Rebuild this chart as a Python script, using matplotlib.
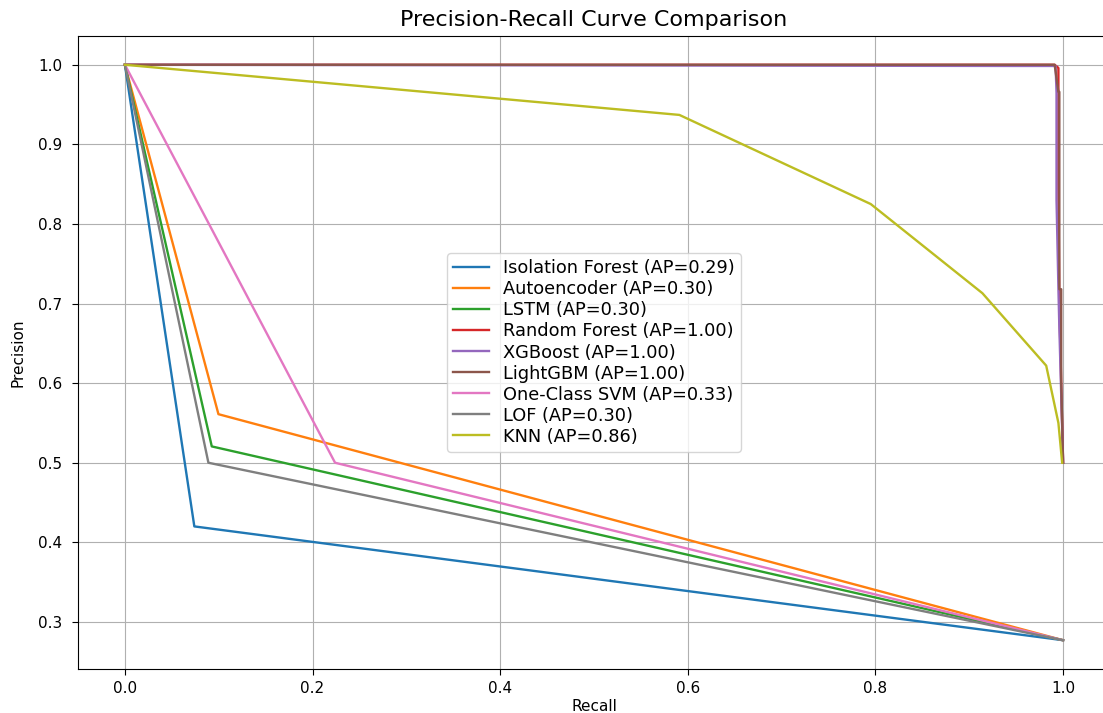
import matplotlib
matplotlib.use("Agg")
import matplotlib.pyplot as plt

# recall / precision points
iso_recall = [0.0, 0.074, 1.0]
iso_prec = [1.0, 0.42, 0.277]

ae_recall = [0.0, 0.0997, 1.0]
ae_prec = [1.0, 0.561, 0.277]

lstm_recall = [0.0, 0.0926, 1.0]
lstm_prec = [1.0, 0.5205, 0.277]

rf_recall = [0.0, 0.991, 0.995, 0.995, 0.996, 0.998, 1.0]
rf_prec = [1.0, 1.0, 0.996, 0.85, 0.70, 0.60, 0.50]

xgb_recall = [0.0, 0.949, 0.992, 0.993, 0.993, 0.995, 0.996, 1.0]
xgb_prec = [1.0, 0.9985, 0.9985, 0.965, 0.83, 0.72, 0.67, 0.50]

lgbm_recall = [0.0, 0.991, 0.995, 0.996, 0.996, 0.998, 0.998, 1.0]
lgbm_prec = [1.0, 1.0, 0.966, 0.966, 0.718, 0.718, 0.60, 0.50]

ocsvm_recall = [0.0, 0.224, 1.0]
ocsvm_prec = [1.0, 0.50, 0.277]

lof_recall = [0.0, 0.089, 1.0]
lof_prec = [1.0, 0.50, 0.277]

knn_recall = [0.0, 0.591, 0.795, 0.914, 0.982, 0.995, 0.999]
knn_prec = [1.0, 0.937, 0.825, 0.713, 0.622, 0.55, 0.50]

labels = ["Isolation Forest (AP=0.29)", "Autoencoder (AP=0.30)", "LSTM (AP=0.30)",
          "Random Forest (AP=1.00)", "XGBoost (AP=1.00)", "LightGBM (AP=1.00)",
          "One-Class SVM (AP=0.33)", "LOF (AP=0.30)", "KNN (AP=0.86)"]

curves = [(iso_recall, iso_prec), (ae_recall, ae_prec), (lstm_recall, lstm_prec),
          (rf_recall, rf_prec), (xgb_recall, xgb_prec), (lgbm_recall, lgbm_prec),
          (ocsvm_recall, ocsvm_prec), (lof_recall, lof_prec), (knn_recall, knn_prec)]

fig = plt.figure(figsize=(11.03, 7.13), dpi=100)
# right side is cropped off in the reference, so the axes run past the edge
ax = fig.add_axes([78 / 1103, 44 / 713, 1032 / 1103, 633 / 713])
ax.spines["right"].set_visible(False)

for (r, p), lab in zip(curves, labels):
    ax.plot(r, p, label=lab, lw=1.7)

ax.set_title("Precision-Recall Curve Comparison", fontsize=16, pad=7)
ax.set_xlabel("Recall", fontsize=11, labelpad=2)
ax.set_ylabel("Precision", fontsize=11, labelpad=9)
ax.tick_params(labelsize=11, length=4.3)
ax.tick_params(axis="y", pad=7)
ax.tick_params(axis="x", pad=4.5)
ax.legend(loc="center", fontsize=12.8, labelspacing=0.17, handlelength=2.0,
          borderpad=0.35)
ax.grid(True)

fig.savefig("out.png", dpi=100)
